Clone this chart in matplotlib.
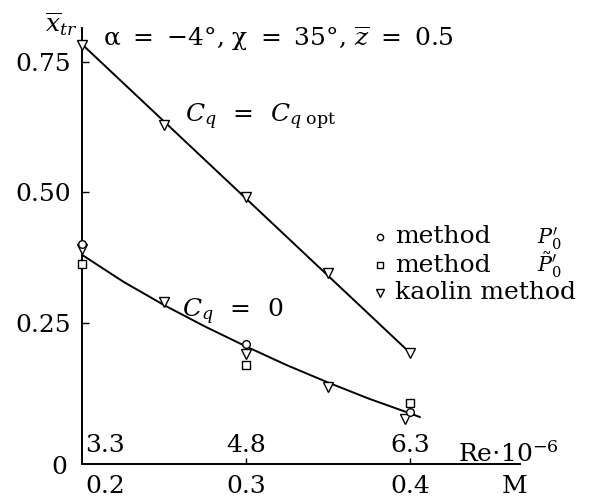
import matplotlib.pyplot as plt
import numpy as np

plt.rcParams["font.family"] = ["DejaVu Serif"]
plt.rcParams["mathtext.fontset"] = "dejavuserif"

# measured points, x_tr vs Mach number
M_opt = [0.2, 0.25, 0.3, 0.35, 0.4]
x_opt = [0.783, 0.629, 0.491, 0.346, 0.193]   # kaolin method, C_q = C_q opt

M_p0 = [0.2, 0.3, 0.4]
x_p0 = [0.401, 0.210, 0.080]                  # method P0'
M_p0t = [0.2, 0.3, 0.4]
x_p0t = [0.363, 0.170, 0.097]                 # method P0' (tilde)
M_kao = [0.2, 0.25, 0.3, 0.35, 0.397]
x_kao = [0.392, 0.290, 0.191, 0.127, 0.066]   # kaolin method, C_q = 0

# fitted curves
fit_opt_M = [0.2, 0.4]
fit_opt_x = [0.783, 0.193]
fit_zero_M = [0.2, 0.225, 0.25, 0.275, 0.3, 0.325, 0.35, 0.375, 0.4, 0.406]
fit_zero_x = [0.380, 0.329, 0.284, 0.243, 0.205, 0.169, 0.136, 0.105, 0.077, 0.070]

M_ticks = [0.2, 0.3, 0.4]
M_labels = ["0.2", "0.3", "0.4"]
Re_labels = ["3.3", "4.8", "6.3"]
y_ticks = [0.25, 0.5, 0.75]
y_labels = ["0.25", "0.50", "0.75"]

FS = 18

fig = plt.figure(figsize=(5.94, 4.98), dpi=100)
ax = fig.add_axes([0.138, 0.0683, 0.7374, 0.8755])
ax.set_xlim(0.1997, 0.4672)
ax.set_ylim(-0.020, 0.815)

for s in ("top", "right"):
    ax.spines[s].set_visible(False)
for s in ("left", "bottom"):
    ax.spines[s].set_linewidth(1.4)

ax.set_yticks(y_ticks)
ax.set_yticklabels(y_labels, fontsize=FS)
ax.tick_params(axis="y", direction="in", length=5, width=1, pad=8)
ax.set_xticks(M_ticks[1:])
ax.set_xticklabels([])
ax.tick_params(axis="x", direction="in", length=4, width=1)

lw = 1.4
ax.plot(fit_opt_M, fit_opt_x, color="black", lw=lw)
ax.plot(fit_zero_M, fit_zero_x, color="black", lw=lw)

mk = dict(linestyle="none", mfc="white", mec="black", mew=1.0, clip_on=False, zorder=3)
ax.plot(M_opt, x_opt, marker="v", ms=7, **mk)
ax.plot(M_kao, x_kao, marker="v", ms=7, **mk)
ax.plot(M_p0, x_p0, marker="o", ms=5.5, **mk)
ax.plot(M_p0t, x_p0t, marker="s", ms=5.5, **mk)

# M labels under the axis, Re labels above it
xt = ax.get_xaxis_transform()
for m, lab, re in zip(M_ticks, M_labels, Re_labels):
    ha = "left" if m == 0.2 else "center"
    xm = m + 0.0015 if m == 0.2 else m
    ax.text(xm, -0.0665, lab, transform=xt, ha=ha, va="baseline", fontsize=FS, clip_on=False)
    ax.text(xm, 0.0275, re, transform=xt, ha=ha, va="baseline", fontsize=FS)
ax.text(0.4641, -0.0665, "M", transform=xt, ha="center", va="baseline", fontsize=FS)
ax.text(0.4293, 0.004, r"Re$\cdot$10$^{-6}$", transform=xt, ha="left", va="baseline",
        fontsize=FS, clip_on=False)
ax.text(-0.033, -0.007, "0", transform=ax.transAxes, ha="right", va="center", fontsize=FS)

# axis title and parameters
ax.text(-0.009, 1.009, r"$\overline{x}_{tr}$", transform=ax.transAxes, ha="right",
        va="center", fontsize=FS)
ax.text(0.048, 0.975,
        "α \u2009=\u2009 −4°, χ \u2009=\u2009 35°, " + r"$\overline{z}$" + " \u2009=\u2009 0.5",
        transform=ax.transAxes, ha="left", va="center", fontsize=FS)

ax.text(0.2626, 0.635, r"$C_q\ \,=\ \,C_{q\ \mathrm{opt}}$", fontsize=FS, ha="left",
        va="baseline")
ax.text(0.2608, 0.261, r"$C_q\ \,=\ \,0$", fontsize=FS, ha="left", va="baseline")

# marker key: symbol, description, pressure symbol
key_M = 0.3817
key_y = [0.415, 0.361, 0.308]
key_m = ["o", "s", "v"]
key_t = ["method", "method", "kaolin method"]
key_p = [r"$P_0'$", r"$\tilde{P}_0'$", ""]
for yk, m, t, p in zip(key_y, key_m, key_t, key_p):
    ax.plot([key_M], [yk], marker=m, ms=4.5 if m != "v" else 5.5, **mk)
    ax.text(0.3908, yk, t, fontsize=FS, ha="left", va="center", clip_on=False)
    if p:
        ax.text(0.4776, yk - 0.014, p, fontsize=15, ha="left", va="baseline", clip_on=False)

fig.savefig("out.png", dpi=100)
